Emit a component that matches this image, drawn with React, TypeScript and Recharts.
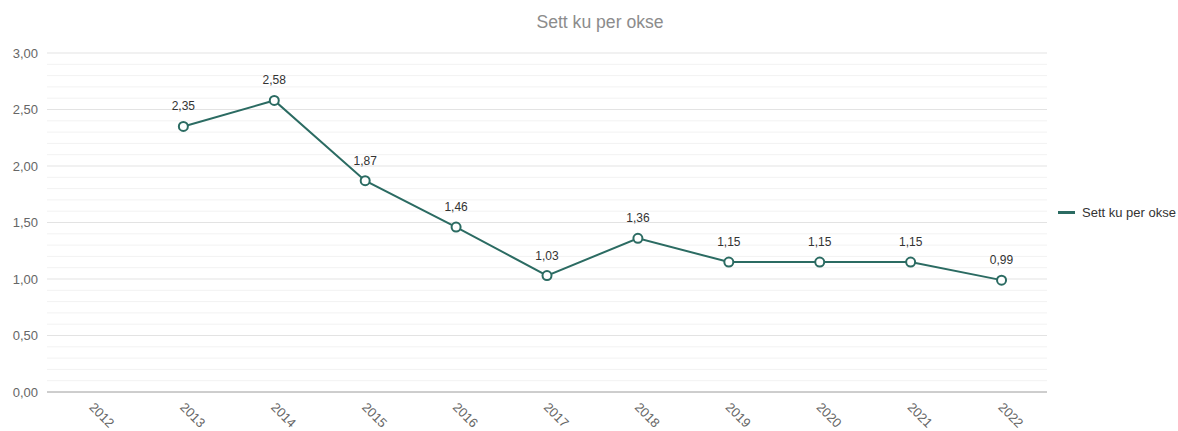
import {
  LineChart,
  Line,
  XAxis,
  YAxis,
  CartesianGrid,
  ReferenceLine,
  LabelList,
} from "recharts";

const YEARS = [2012, 2013, 2014, 2015, 2016, 2017, 2018, 2019, 2020, 2021, 2022];
const SETT_KU_PER_OKSE = [null, 2.35, 2.58, 1.87, 1.46, 1.03, 1.36, 1.15, 1.15, 1.15, 0.99];
const Y_TICKS = [0, 0.5, 1, 1.5, 2, 2.5, 3];
const Y_MINOR = [
  0.1, 0.2, 0.3, 0.4, 0.6, 0.7, 0.8, 0.9, 1.1, 1.2, 1.3, 1.4, 1.6, 1.7, 1.8, 1.9,
  2.1, 2.2, 2.3, 2.4, 2.6, 2.7, 2.8, 2.9,
];
const X_EDGES = [2011.5, 2012.5, 2013.5, 2014.5, 2015.5, 2016.5, 2017.5, 2018.5, 2019.5, 2020.5, 2021.5, 2022.5];

const TITLE = "Sett ku per okse";
const SERIES_NAME = "Sett ku per okse";
const LINE_COLOR = "#2b6b62";
const FONT = '"Liberation Sans", Arial, sans-serif';

const data = YEARS.map((year, i) => ({ year, value: SETT_KU_PER_OKSE[i] }));

function formatNo(v: number) {
  return v.toFixed(2).replace(".", ",");
}

function YearTick({ x, y, payload }: any) {
  return (
    <text
      x={x - 4}
      y={y + 7}
      transform={`rotate(45 ${x - 4} ${y + 7})`}
      textAnchor="start"
      fontSize={13}
      fill="#666"
      fontFamily={FONT}
    >
      {payload.value}
    </text>
  );
}

export default function App() {
  return (
    <div style={{ position: "absolute", left: 0, top: 0, width: 1178, height: 431, fontFamily: FONT, background: "#fff" }}>
      <div
        style={{
          position: "absolute",
          left: 0,
          width: 1200,
          top: 12,
          textAlign: "center",
          fontSize: 17.6,
          color: "#8c8c8c",
        }}
      >
        {TITLE}
      </div>
      <LineChart
        width={1178}
        height={431}
        data={data}
        margin={{ top: 53, right: 131, bottom: 0, left: 0 }}
        style={{ overflow: "visible" }}
      >
        <CartesianGrid horizontal vertical={false} stroke="#e3e3e3" />
        {Y_MINOR.map((v) => (
          <ReferenceLine key={v} y={v} stroke="#f2f2f2" strokeWidth={1} />
        ))}
        <XAxis
          xAxisId="edges"
          type="number"
          dataKey="year"
          domain={[2011.5, 2022.5]}
          ticks={X_EDGES}
          tick={false}
          height={1}
          tickSize={5}
          axisLine={{ stroke: "#aaaaaa" }}
          tickLine={{ stroke: "#aaaaaa" }}
        />
        <XAxis
          xAxisId="labels"
          type="number"
          dataKey="year"
          domain={[2011.5, 2022.5]}
          ticks={YEARS}
          interval={0}
          height={38}
          axisLine={false}
          tickLine={false}
          tick={<YearTick />}
        />
        <YAxis
          domain={[0, 3]}
          ticks={Y_TICKS}
          width={47}
          axisLine={false}
          tickLine={false}
          tickMargin={3}
          tickFormatter={formatNo}
          tick={{ fill: "#666", fontSize: 13, fontFamily: FONT }}
        />
        <Line
          xAxisId="labels"
          dataKey="value"
          name={SERIES_NAME}
          stroke={LINE_COLOR}
          strokeWidth={2}
          dot={{ r: 4.5, fill: "#fff", stroke: LINE_COLOR, strokeWidth: 2 }}
          activeDot={false}
          isAnimationActive={false}
        >
          <LabelList
            dataKey="value"
            position="top"
            offset={16}
            formatter={(v: any) => (v == null ? "" : formatNo(v))}
            style={{ fill: "#333", fontSize: 12, fontFamily: FONT }}
          />
        </Line>
      </LineChart>
      <div
        style={{
          position: "absolute",
          left: 1058,
          top: 205,
          display: "flex",
          alignItems: "center",
          fontSize: 13,
          color: "#333",
          whiteSpace: "nowrap",
        }}
      >
        <span style={{ display: "inline-block", width: 17, height: 3, background: LINE_COLOR, marginRight: 7 }} />
        {SERIES_NAME}
      </div>
    </div>
  );
}
